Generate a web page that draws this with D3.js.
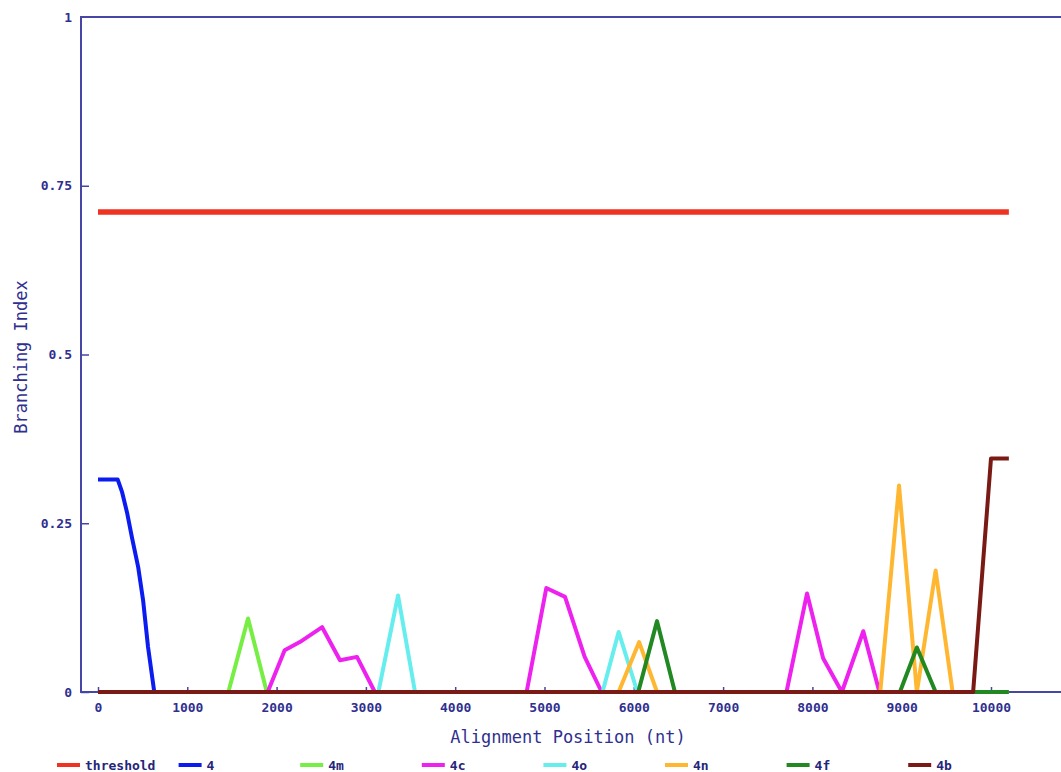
<!DOCTYPE html>
<html>
<head>
<meta charset="utf-8">
<script src="https://cdn.jsdelivr.net/npm/d3@7"></script>
<style>
  body { margin: 0; background: #fff; }
  svg { display: block; }
  .tick text { font-family: "DejaVu Sans Mono", monospace; font-weight: bold; font-size: 13px; fill: #2f2f8f; }
  .tick line { stroke: #4646a6; stroke-width: 1.5; }
</style>
</head>
<body>
<svg width="1061" height="772"></svg>
<script>

// DATA

var seriesNames = ["threshold", "4", "4m", "4c", "4o", "4n", "4f", "4b"];
var seriesColors = ["#ee3322", "#0a1cf0", "#77ee44", "#ee22ee", "#66eeee", "#ffb732", "#228822", "#7a1a14"];

// [alignment position (nt), branching index]
var threshold = [[0, 0.711], [10200, 0.711]];
var s4 = [[0, 0.315], [220, 0.315], [270, 0.296], [325, 0.266], [380, 0.229], [450, 0.185],
          [505, 0.136], [560, 0.067], [630, 0], [10200, 0]];
var s4m = [[0, 0], [1460, 0], [1680, 0.109], [1890, 0], [10200, 0]];
var s4c = [[0, 0], [1900, 0], [2090, 0.062], [2260, 0.074], [2510, 0.096], [2710, 0.047],
           [2900, 0.052], [3100, 0], [4800, 0], [5020, 0.154], [5230, 0.141], [5450, 0.052],
           [5640, 0], [7710, 0], [7940, 0.146], [8120, 0.05], [8330, 0], [8570, 0.09],
           [8750, 0], [10200, 0]];
var s4o = [[0, 0], [3140, 0], [3360, 0.143], [3550, 0], [5650, 0], [5830, 0.089], [6040, 0], [10200, 0]];
var s4n = [[0, 0], [5830, 0], [6060, 0.074], [6260, 0], [8760, 0], [8970, 0.306], [9170, 0],
           [9380, 0.18], [9570, 0], [10200, 0]];
var s4f = [[0, 0], [6050, 0], [6260, 0.105], [6460, 0], [8980, 0], [9170, 0.066], [9380, 0], [10200, 0]];
var s4b = [[0, 0], [9800, 0], [10000, 0.346], [10200, 0.346]];

var xTicks = d3.range(0, 11001, 1000);
var yTicks = [0, 0.25, 0.5, 0.75, 1];
var yTickLabels = ["0", "0.25", "0.5", "0.75", "1"];

var allSeries = [threshold, s4, s4m, s4c, s4o, s4n, s4f, s4b];


var svg = d3.select("svg"),
    width = +svg.attr("width"),
    height = +svg.attr("height");

var axisColor = "#4646a6",
    textColor = "#2f2f8f",
    plotLeft = 81,
    plotTop = 17,
    plotBottom = 692;

var x = d3.scaleLinear()
    .domain([0, 10000])
    .range([98, 991]);

var y = d3.scaleLinear()
    .domain([0, 1])
    .range([plotBottom, plotTop]);

svg.append("rect")
    .attr("width", width).attr("height", height)
    .attr("fill", "#fff");

// frame: top border, left axis, bottom axis
svg.append("path")
    .attr("d", "M" + (width + 10) + "," + plotTop + "H" + plotLeft + "V" + plotBottom + "H" + (width + 10))
    .attr("fill", "none")
    .attr("stroke", axisColor)
    .attr("stroke-width", 2);

var xAxis = d3.axisBottom(x)
    .tickValues(xTicks)
    .tickFormat(d3.format("d"))
    .tickSize(-5)
    .tickPadding(11);

var yAxis = d3.axisLeft(y)
    .tickValues(yTicks)
    .tickFormat(function (d, i) { return yTickLabels[i]; })
    .tickSize(-8)
    .tickPadding(9);

var gX = svg.append("g")
    .attr("transform", "translate(0," + plotBottom + ")")
    .call(xAxis);
gX.select(".domain").remove();

var gY = svg.append("g")
    .attr("transform", "translate(" + plotLeft + ",0)")
    .call(yAxis);
gY.select(".domain").remove();
gY.selectAll(".tick").filter(function (d) { return d === 1; }).select("line").remove();

// axis titles
svg.append("text")
    .attr("x", 568)
    .attr("y", 743)
    .attr("text-anchor", "middle")
    .attr("font-family", "DejaVu Sans Mono, monospace")
    .attr("font-size", 17)
    .attr("fill", textColor)
    .text("Alignment Position (nt)");

svg.append("text")
    .attr("transform", "translate(27,357) rotate(-90)")
    .attr("text-anchor", "middle")
    .attr("font-family", "DejaVu Sans Mono, monospace")
    .attr("font-size", 17)
    .attr("fill", textColor)
    .text("Branching Index");

// lines
var line = d3.line()
    .x(function (d) { return x(d[0]); })
    .y(function (d) { return y(d[1]); });

svg.append("g")
    .selectAll("path")
    .data(allSeries)
    .enter().append("path")
    .attr("d", line)
    .attr("fill", "none")
    .attr("stroke", function (d, i) { return seriesColors[i]; })
    .attr("stroke-width", function (d, i) { return i === 0 ? 5.5 : 4; })
    .attr("stroke-linejoin", "round");

// legend
var legend = svg.append("g")
    .selectAll("g")
    .data(seriesNames)
    .enter().append("g")
    .attr("transform", function (d, i) { return "translate(" + (57 + i * 121.6) + ",765)"; });

legend.append("line")
    .attr("x1", 0).attr("x2", 23)
    .attr("stroke", function (d, i) { return seriesColors[i]; })
    .attr("stroke-width", 4);

legend.append("text")
    .attr("x", 28)
    .attr("dy", "0.35em")
    .attr("font-family", "DejaVu Sans Mono, monospace")
    .attr("font-weight", "bold")
    .attr("font-size", 13)
    .attr("fill", "#25257a")
    .text(function (d) { return d; });

</script>
</body>
</html>
